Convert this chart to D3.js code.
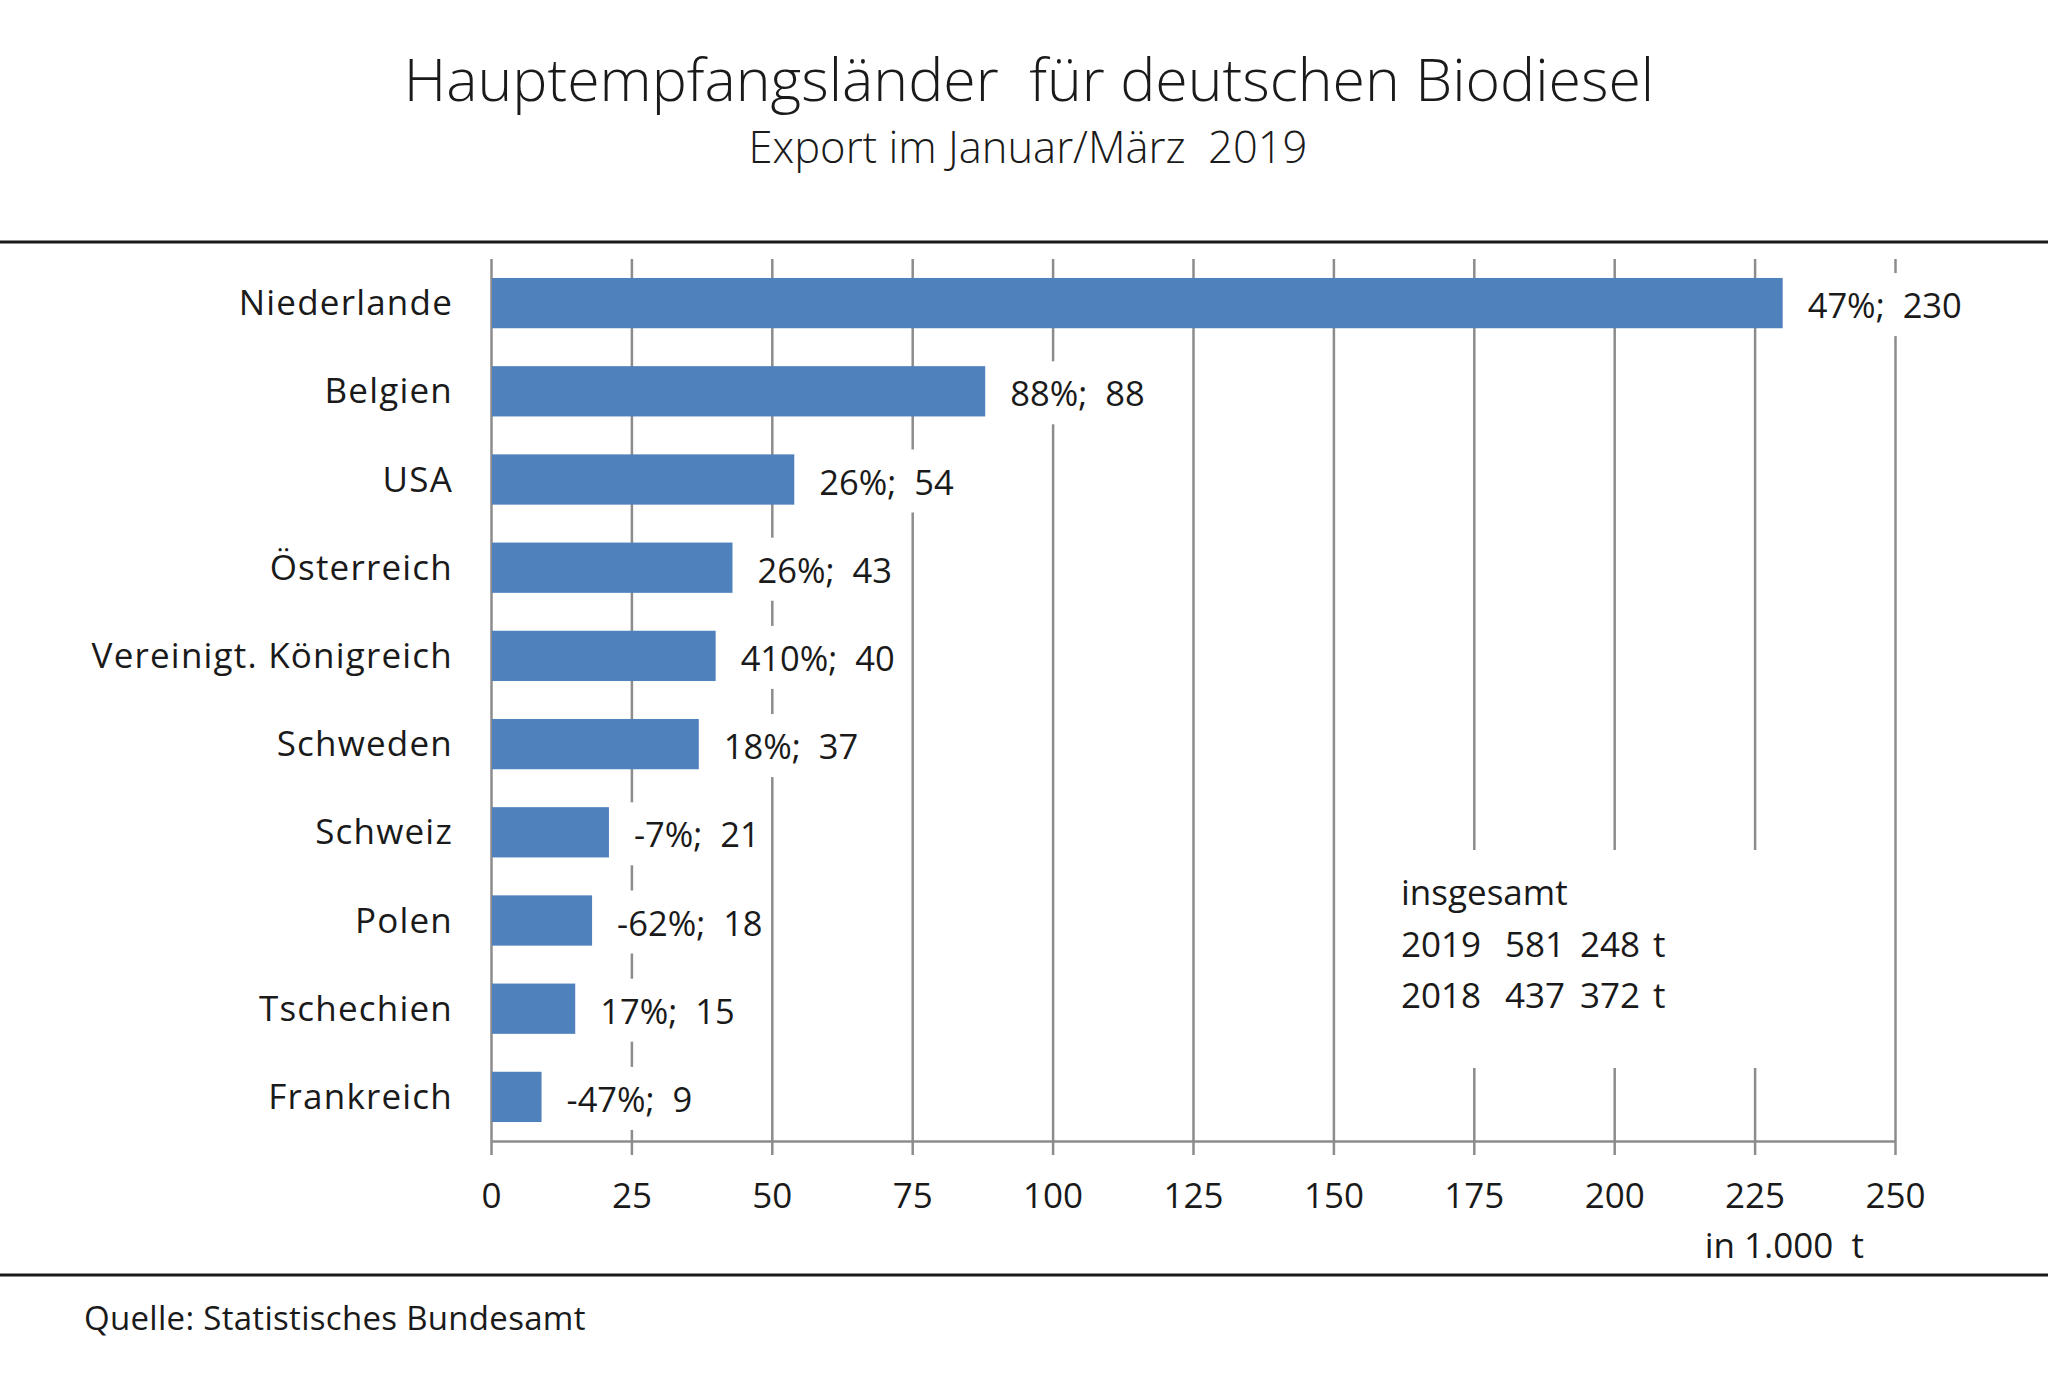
<!DOCTYPE html>
<html>
<head>
<meta charset="utf-8">
<script src="https://cdn.jsdelivr.net/npm/d3@7"></script>
<style>
  body { margin: 0; background: #fff; }
  svg text { font-family: "Open Sans", "DejaVu Sans", sans-serif; fill: #1a1a1a; white-space: pre; }
</style>
</head>
<body>
<script>
// data
const countries = ["Niederlande", "Belgien", "USA", "Österreich", "Vereinigt. Königreich",
    "Schweden", "Schweiz", "Polen", "Tschechien", "Frankreich"];
const values = [230, 88, 54, 43, 40, 37, 21, 18, 15, 9];
const changes = ["47%", "88%", "26%", "26%", "410%", "18%", "-7%", "-62%", "17%", "-47%"];
const xTicks = [0, 25, 50, 75, 100, 125, 150, 175, 200, 225, 250];
const totalYears = ["2019", "2018"];
const totalThousands = ["581", "437"];
const totalUnits = ["248", "372"];

const width = 2048, height = 1377;
const plot = { left: 491, right: 1895, top: 259, bottom: 1141 };

const svg = d3.select("body").append("svg")
    .attr("width", width)
    .attr("height", height);

// title
svg.append("text")
    .attr("x", 1029).attr("y", 101)
    .attr("text-anchor", "middle")
    .style("font-size", "59px").style("font-weight", 300)
    .text("Hauptempfangsländer  für deutschen Biodiesel");

svg.append("text")
    .attr("x", 1028).attr("y", 163)
    .attr("text-anchor", "middle")
    .style("font-size", "43.5px").style("font-weight", 300)
    .text("Export im Januar/März  2019");

// rules
svg.append("line")
    .attr("x1", 0).attr("x2", width).attr("y1", 242).attr("y2", 242)
    .attr("stroke", "#1a1a1a").attr("stroke-width", 3);
svg.append("line")
    .attr("x1", 0).attr("x2", width).attr("y1", 1275).attr("y2", 1275)
    .attr("stroke", "#1a1a1a").attr("stroke-width", 3);

// scales
const x = d3.scaleLinear().domain([0, 250]).range([plot.left, plot.right]);
const y = d3.scaleBand()
    .domain(countries)
    .range([plot.top, plot.bottom])
    .paddingInner(0.43)
    .paddingOuter(0.215);

// grid
svg.append("g")
    .attr("transform", `translate(0,${plot.bottom})`)
    .call(d3.axisBottom(x).tickValues(xTicks).tickSize(-(plot.bottom - plot.top)).tickFormat(""))
    .call(g => g.select(".domain").remove())
    .call(g => g.selectAll("line").attr("stroke", "#8c8c8c").attr("stroke-width", 2.5));

// layer for white label backgrounds (covering grid)
const bgLayer = svg.append("g");

// axis
const axis = svg.append("g")
    .attr("transform", `translate(0,${plot.bottom})`)
    .call(d3.axisBottom(x).tickValues(xTicks).tickSize(14).tickSizeOuter(0));
axis.select(".domain").attr("stroke", "#8c8c8c").attr("stroke-width", 2.5);
axis.selectAll("line").attr("stroke", "#8c8c8c").attr("stroke-width", 2.5);
axis.selectAll("text")
    .attr("dy", null)
    .attr("y", 67)
    .style("font-size", "35px")
    .attr("fill", "#1a1a1a");

// bars
svg.append("g").selectAll("rect")
    .data(countries)
    .join("rect")
    .attr("x", x(0) + 1)
    .attr("y", d => y(d))
    .attr("width", (d, i) => x(values[i]) - x(0) - 1)
    .attr("height", y.bandwidth())
    .attr("fill", "#4f81bd");

// category labels
svg.append("g").selectAll("text")
    .data(countries)
    .join("text")
    .attr("x", 453)
    .attr("y", d => y(d) + y.bandwidth() / 2 + 12)
    .attr("text-anchor", "end")
    .style("font-size", "35px")
    .style("letter-spacing", "1.2px")
    .text(d => d);

// value labels with white background
const valueLabels = svg.append("g").selectAll("text")
    .data(countries)
    .join("text")
    .attr("x", (d, i) => x(values[i]) + 25)
    .attr("y", d => y(d) + y.bandwidth() / 2 + 15)
    .style("font-size", "34.5px")
    .text((d, i) => `${changes[i]};  ${values[i]}`);

valueLabels.each(function() {
    const b = this.getBBox();
    bgLayer.append("rect")
        .attr("x", b.x - 5).attr("y", b.y - 8)
        .attr("width", b.width + 10).attr("height", b.height + 16)
        .attr("fill", "#fff");
});

// totals box
bgLayer.append("rect")
    .attr("x", 1390).attr("y", 850)
    .attr("width", 420).attr("height", 218)
    .attr("fill", "#fff");

const totals = svg.append("g");
totals.append("text").attr("x", 1401).attr("y", 905).style("font-size", "35px").text("insgesamt");
totalYears.forEach((yr, i) => {
    const ty = 957 + i * 51;
    totals.append("text").attr("x", 1401).attr("y", ty).style("font-size", "35px").text(yr);
    totals.append("text").attr("x", 1505).attr("y", ty).style("font-size", "35px").text(totalThousands[i]);
    totals.append("text").attr("x", 1580).attr("y", ty).style("font-size", "35px").text(totalUnits[i]);
    totals.append("text").attr("x", 1653).attr("y", ty).style("font-size", "35px").text("t");
});

// unit
svg.append("text")
    .attr("x", 1864).attr("y", 1258)
    .attr("text-anchor", "end")
    .style("font-size", "35px")
    .text("in 1.000  t");

// source
svg.append("text")
    .attr("x", 84).attr("y", 1330)
    .style("font-size", "33px")
    .style("letter-spacing", "0.3px")
    .text("Quelle: Statistisches Bundesamt");
</script>
</body>
</html>
